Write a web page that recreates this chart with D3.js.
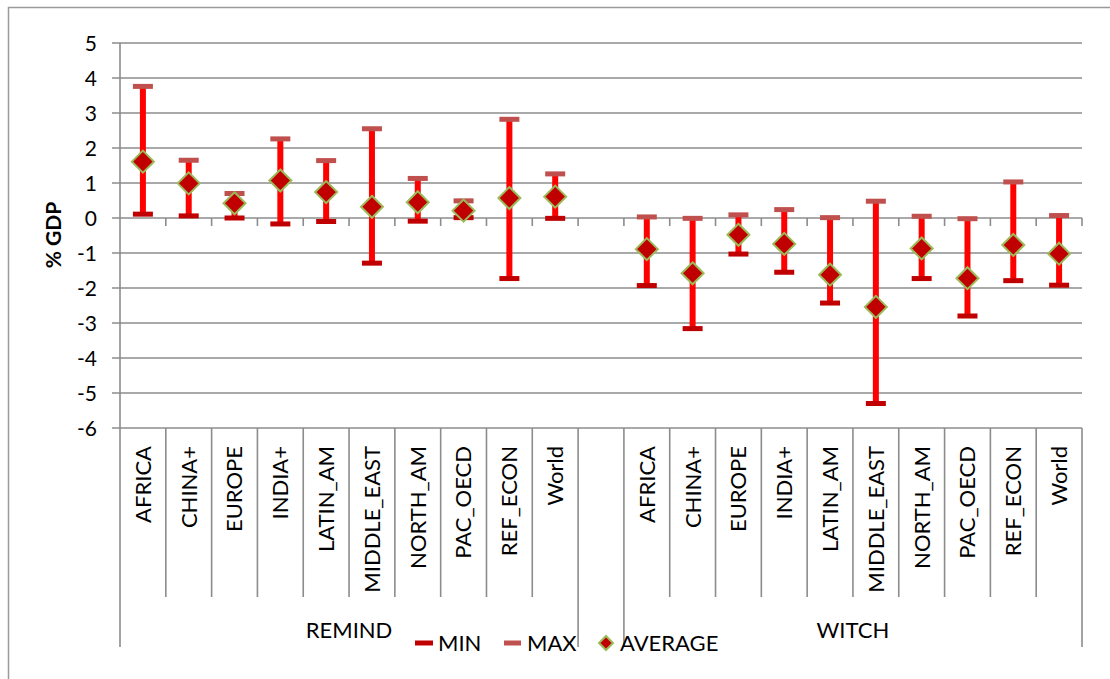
<!DOCTYPE html>
<html>
<head>
<meta charset="utf-8">
<script src="https://cdn.jsdelivr.net/npm/d3@7/dist/d3.min.js"></script>
<style>
  body { margin: 0; background: #fff; }
  text { font-family: Lato, "Open Sans", sans-serif; fill: #000; }
</style>
</head>
<body>
<script>
// regions and models
var regions = ["AFRICA", "CHINA+", "EUROPE", "INDIA+", "LATIN_AM", "MIDDLE_EAST", "NORTH_AM", "PAC_OECD", "REF_ECON", "World"];
var models = ["REMIND", "WITCH"];

// % GDP values
var remindMin = [0.11, 0.06, 0.00, -0.17, -0.10, -1.29, -0.09, 0.01, -1.73, -0.01];
var remindMax = [3.76, 1.65, 0.70, 2.26, 1.64, 2.55, 1.13, 0.49, 2.82, 1.26];
var remindAvg = [1.61, 0.99, 0.42, 1.07, 0.74, 0.32, 0.45, 0.21, 0.57, 0.61];

var witchMin = [-1.93, -3.16, -1.03, -1.55, -2.43, -5.30, -1.73, -2.80, -1.79, -1.92];
var witchMax = [0.03, -0.01, 0.09, 0.24, 0.01, 0.48, 0.05, -0.02, 1.03, 0.07];
var witchAvg = [-0.89, -1.58, -0.48, -0.74, -1.62, -2.54, -0.87, -1.72, -0.77, -1.02];

var yTicks = [5, 4, 3, 2, 1, 0, -1, -2, -3, -4, -5, -6];

var rows = [];
regions.forEach(function (r, i) {
  rows.push({model: "REMIND", region: r, min: remindMin[i], max: remindMax[i], avg: remindAvg[i]});
});
regions.forEach(function (r, i) {
  rows.push({model: "WITCH", region: r, min: witchMin[i], max: witchMax[i], avg: witchAvg[i]});
});

var slots = regions.map(function (r) { return "REMIND|" + r; })
  .concat(["gap"])
  .concat(regions.map(function (r) { return "WITCH|" + r; }));

var svg = d3.select("body").append("svg")
  .attr("width", 1110)
  .attr("height", 679);

// outer chart border
svg.append("rect")
  .attr("x", 8.5).attr("y", 7.5)
  .attr("width", 1120).attr("height", 700)
  .attr("fill", "none")
  .attr("stroke", "#9a9a9a")
  .attr("stroke-width", 1.5);

var x = d3.scaleBand().domain(slots).range([120, 1082]);
var y = d3.scaleLinear().domain([-6, 5]).range([428, 43]);
var bw = x.bandwidth();

// gridlines
svg.selectAll(".grid")
  .data(yTicks)
  .enter().append("line")
  .attr("x1", 112).attr("x2", 1082)
  .attr("y1", function (d) { return y(d); })
  .attr("y2", function (d) { return y(d); })
  .attr("stroke", "#8c8c8c")
  .attr("stroke-width", 1.6);

// y axis line
svg.append("line")
  .attr("x1", 120).attr("x2", 120)
  .attr("y1", y(5)).attr("y2", 647)
  .attr("stroke", "#8c8c8c").attr("stroke-width", 1.6);

// y tick labels
svg.selectAll(".ytl")
  .data(yTicks)
  .enter().append("text")
  .attr("x", 97)
  .attr("y", function (d) { return y(d); })
  .attr("dy", "0.36em")
  .attr("text-anchor", "end")
  .style("font-size", "21px")
  .text(function (d) { return d; });

svg.append("text")
  .attr("transform", "translate(61,235) rotate(-90)")
  .attr("text-anchor", "middle")
  .style("font-size", "21px")
  .style("font-weight", "bold")
  .text("% GDP");

// tick marks on the zero line
var bounds = slots.map(function (s) { return x(s) + bw; });
svg.selectAll(".zt")
  .data(bounds)
  .enter().append("line")
  .attr("x1", function (d) { return d; })
  .attr("x2", function (d) { return d; })
  .attr("y1", y(0)).attr("y2", y(0) + 8)
  .attr("stroke", "#8c8c8c").attr("stroke-width", 1.6);

// category dividers below the plot
svg.selectAll(".cd")
  .data(bounds)
  .enter().append("line")
  .attr("x1", function (d) { return d; })
  .attr("x2", function (d) { return d; })
  .attr("y1", y(-6))
  .attr("y2", function (d, i) { return (i === 9 || i === 10 || i === 20) ? 647 : 597; })
  .attr("stroke", "#8c8c8c").attr("stroke-width", 1.6);

// category labels
svg.selectAll(".cl")
  .data(rows)
  .enter().append("text")
  .attr("transform", function (d) {
    return "translate(" + (x(d.model + "|" + d.region) + bw / 2) + ",446) rotate(-90)";
  })
  .attr("dy", "0.36em")
  .attr("text-anchor", "end")
  .style("font-size", "22px")
  .text(function (d) { return d.region; });

// model labels
svg.selectAll(".ml")
  .data(models)
  .enter().append("text")
  .attr("x", function (m) {
    var a = x(m + "|" + regions[0]);
    var b = x(m + "|" + regions[regions.length - 1]) + bw;
    return (a + b) / 2;
  })
  .attr("y", 638)
  .attr("text-anchor", "middle")
  .style("font-size", "22px")
  .text(function (m) { return m; });

// error bars
var cx = function (d) { return x(d.model + "|" + d.region) + bw / 2; };

svg.selectAll(".bar")
  .data(rows)
  .enter().append("line")
  .attr("x1", cx).attr("x2", cx)
  .attr("y1", function (d) { return y(d.max); })
  .attr("y2", function (d) { return y(d.min); })
  .attr("stroke", "#ff0000")
  .attr("stroke-width", 6);

svg.selectAll(".maxcap")
  .data(rows)
  .enter().append("rect")
  .attr("x", function (d) { return cx(d) - 10; })
  .attr("y", function (d) { return y(d.max) - 2.5; })
  .attr("width", 20).attr("height", 5)
  .attr("fill", "#c0504d");

svg.selectAll(".mincap")
  .data(rows)
  .enter().append("rect")
  .attr("x", function (d) { return cx(d) - 10; })
  .attr("y", function (d) { return y(d.min) - 2.5; })
  .attr("width", 20).attr("height", 5)
  .attr("fill", "#c00000");

var diamond = function (r) {
  return "M0," + (-r) + "L" + r + ",0L0," + r + "L" + (-r) + ",0Z";
};

svg.selectAll(".avg")
  .data(rows)
  .enter().append("path")
  .attr("transform", function (d) { return "translate(" + cx(d) + "," + y(d.avg) + ")"; })
  .attr("d", diamond(11))
  .attr("fill", "#c00000")
  .attr("stroke", "#9bbb59")
  .attr("stroke-width", 2);

// legend
var legend = svg.append("g");
legend.append("line")
  .attr("x1", 415).attr("x2", 433).attr("y1", 643).attr("y2", 643)
  .attr("stroke", "#c00000").attr("stroke-width", 5);
legend.append("text").attr("x", 438).attr("y", 651).style("font-size", "22px").text("MIN");
legend.append("line")
  .attr("x1", 504).attr("x2", 521).attr("y1", 643).attr("y2", 643)
  .attr("stroke", "#c0504d").attr("stroke-width", 5);
legend.append("text").attr("x", 527).attr("y", 651).style("font-size", "22px").text("MAX");
legend.append("path")
  .attr("transform", "translate(606,643)")
  .attr("d", diamond(7))
  .attr("fill", "#c00000")
  .attr("stroke", "#9bbb59")
  .attr("stroke-width", 2);
legend.append("text").attr("x", 620).attr("y", 651).style("font-size", "22px").text("AVERAGE");
</script>
</body>
</html>
